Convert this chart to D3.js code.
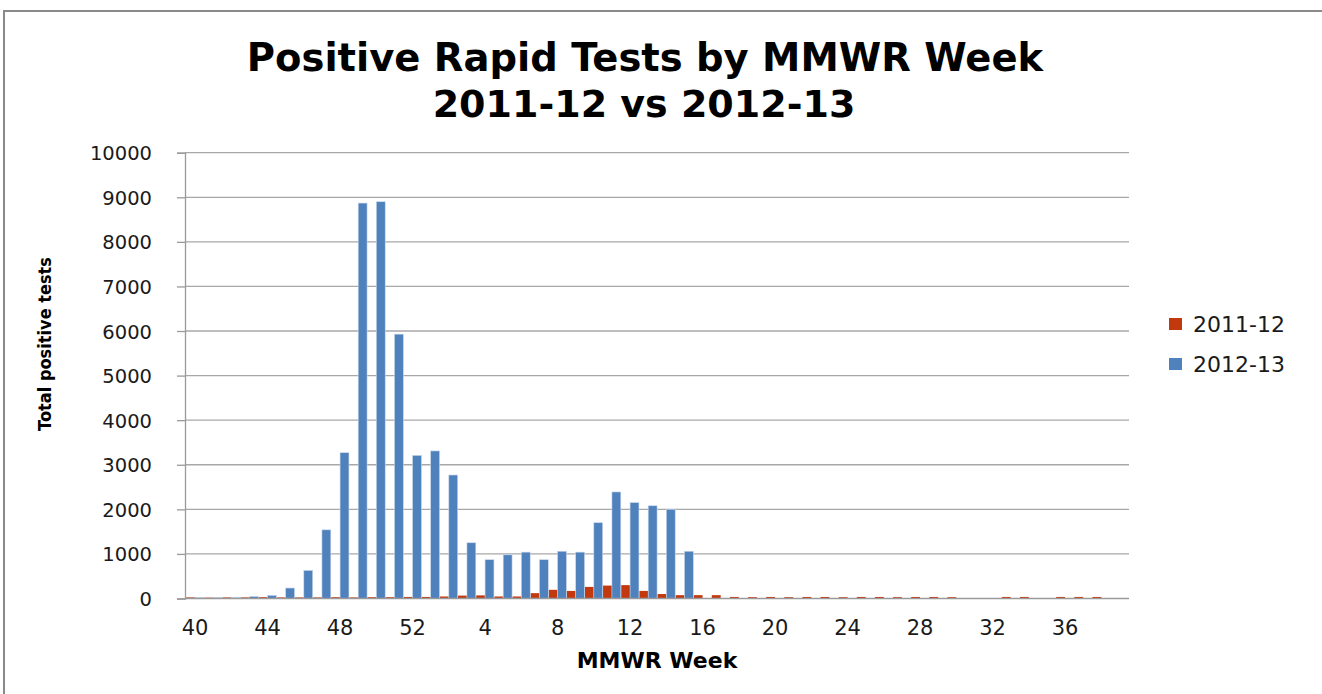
<!DOCTYPE html>
<html>
<head>
<meta charset="utf-8">
<script src="https://cdn.jsdelivr.net/npm/d3@7/dist/d3.min.js"></script>
<style>
  body { margin: 0; background: white; }
  text { font-family: "DejaVu Sans", sans-serif; fill: #1a1a1a; }
</style>
</head>
<body>
<div id="chart"></div>
<script>
// MMWR weeks, season runs from week 40 to week 39 of the next year
var weeks = [40, 41, 42, 43, 44, 45, 46, 47, 48, 49, 50, 51, 52,
             1, 2, 3, 4, 5, 6, 7, 8, 9, 10, 11, 12, 13, 14, 15, 16, 17, 18, 19, 20,
             21, 22, 23, 24, 25, 26, 27, 28, 29, 30, 31, 32, 33, 34, 35, 36, 37, 38, 39];

var season1112 = [25, 20, 25, 25, 30, 25, 25, 25, 30, 25, 30, 30, 35,
                  35, 45, 65, 70, 45, 45, 120, 195, 170, 260, 290, 300, 170, 100, 75, 75, 75, 35, 30, 35,
                  30, 35, 35, 30, 35, 35, 30, 35, 35, 30, 0, 0, 35, 35, 0, 35, 35, 35, 0];

var season1213 = [20, 20, 20, 45, 70, 235, 630, 1540, 3270, 8870, 8900, 5930, 3210,
                  3310, 2770, 1250, 870, 980, 1040, 870, 1060, 1040, 1700, 2390, 2150, 2080, 2000, 1060, null, null, null, null, null,
                  null, null, null, null, null, null, null, null, null, null, null, null, null, null, null, null, null, null, null];

var seriesNames = ['2011-12', '2012-13'];
var seriesColors = ['#c2390e', '#4f81bd'];
var yTicks = [0, 1000, 2000, 3000, 4000, 5000, 6000, 7000, 8000, 9000, 10000];
var xLabelWeeks = [40, 44, 48, 52, 4, 8, 12, 16, 20, 24, 28, 32, 36];

var width = 1322;
var height = 694;

var svg = d3.select('#chart').append('svg')
    .attr('width', width)
    .attr('height', height)
    .style('display', 'block');

// chart frame
svg.append('rect')
    .attr('x', 4)
    .attr('y', 11)
    .attr('width', 1400)
    .attr('height', 800)
    .style('fill', 'white')
    .style('stroke', '#8a8a8a')
    .style('stroke-width', 2);

// scales
var x = d3.scaleBand()
    .domain(d3.range(weeks.length))
    .range([186, 1128.5])
    .paddingInner(0)
    .paddingOuter(0);

var xSeries = d3.scaleBand()
    .domain([0, 1])
    .range([0, x.bandwidth()])
    .paddingInner(0)
    .paddingOuter(0.02);

var y = d3.scaleLinear()
    .domain([0, 10000])
    .range([598.5, 152.7]);

// gridlines
svg.append('g')
    .selectAll('line')
    .data(yTicks.slice(1))
    .enter()
    .append('line')
        .attr('x1', 185)
        .attr('x2', 1129)
        .attr('y1', function(d) { return y(d); })
        .attr('y2', function(d) { return y(d); })
        .style('stroke', '#a8a8a8')
        .style('stroke-width', 1.3);

// y axis
var yAxis = d3.axisLeft(y)
    .tickValues(yTicks)
    .tickSize(8)
    .tickPadding(25)
    .tickFormat(d3.format('d'));

var yAxisG = svg.append('g')
    .attr('transform', 'translate(185,0)')
    .call(yAxis);
yAxisG.select('.domain').style('stroke', '#9a9a9a').style('stroke-width', 1.3);
yAxisG.selectAll('.tick line').style('stroke', '#9a9a9a').style('stroke-width', 1.3);
yAxisG.selectAll('.tick text')
    .style('font-family', '"DejaVu Sans", sans-serif')
    .style('font-size', '19.5px')
    .style('fill', '#1a1a1a')
    .attr('dy', '0.36em');

// bars
var seriesData = [season1112, season1213];
seriesData.forEach(function(values, s) {
    svg.append('g')
        .selectAll('rect')
        .data(values.map(function(v, i) { return { i: i, v: v }; })
            .filter(function(d) { return d.v != null && d.v > 0; }))
        .enter()
        .append('rect')
            .attr('x', function(d) { return x(d.i) + xSeries(s); })
            .attr('width', xSeries.bandwidth())
            .attr('y', function(d) { return y(d.v); })
            .attr('height', function(d) { return y(0) - y(d.v); })
            .style('fill', seriesColors[s])
            .style('stroke', s === 1 ? '#c9d8ec' : 'none')
            .style('stroke-width', 0.6);
});

// x axis line
svg.append('line')
    .attr('x1', 185)
    .attr('x2', 1129)
    .attr('y1', y(0))
    .attr('y2', y(0))
    .style('stroke', '#9a9a9a')
    .style('stroke-width', 1.3);

// x labels, every 4th week
svg.append('g')
    .selectAll('text')
    .data(weeks.map(function(w, i) { return { w: w, i: i }; })
        .filter(function(d) { return xLabelWeeks.indexOf(d.w) >= 0; }))
    .enter()
    .append('text')
        .text(function(d) { return d.w; })
        .attr('x', function(d) { return x(d.i) + x.bandwidth() / 2; })
        .attr('y', 635)
        .style('font-size', '21px')
        .style('text-anchor', 'middle');

// titles
svg.append('text')
    .text('Positive Rapid Tests by MMWR Week')
    .attr('x', 645)
    .attr('y', 71)
    .style('font-size', '38.5px')
    .style('font-weight', 'bold')
    .style('fill', '#000')
    .style('text-anchor', 'middle');

svg.append('text')
    .text('2011-12 vs 2012-13')
    .attr('x', 644)
    .attr('y', 117)
    .style('font-size', '38px')
    .style('font-weight', 'bold')
    .style('fill', '#000')
    .style('text-anchor', 'middle');

svg.append('text')
    .text('MMWR Week')
    .attr('x', 657)
    .attr('y', 668)
    .style('font-size', '22px')
    .style('font-weight', 'bold')
    .style('fill', '#000')
    .style('text-anchor', 'middle');

svg.append('text')
    .text('Total positive tests')
    .attr('transform', 'translate(51,344) rotate(-90)')
    .attr('textLength', 174)
    .attr('lengthAdjust', 'spacingAndGlyphs')
    .style('font-size', '18.5px')
    .style('font-weight', 'bold')
    .style('fill', '#000')
    .style('text-anchor', 'middle');

// legend
var legend = svg.append('g')
    .selectAll('g')
    .data(seriesNames)
    .enter()
    .append('g')
        .attr('transform', function(d, i) { return 'translate(1169,' + (318 + i * 40) + ')'; });

legend.append('rect')
    .attr('width', 13)
    .attr('height', 12)
    .style('fill', function(d, i) { return seriesColors[i]; });

legend.append('text')
    .text(function(d) { return d; })
    .attr('x', 24)
    .attr('y', 14)
    .style('font-size', '22px');
</script>
</body>
</html>
